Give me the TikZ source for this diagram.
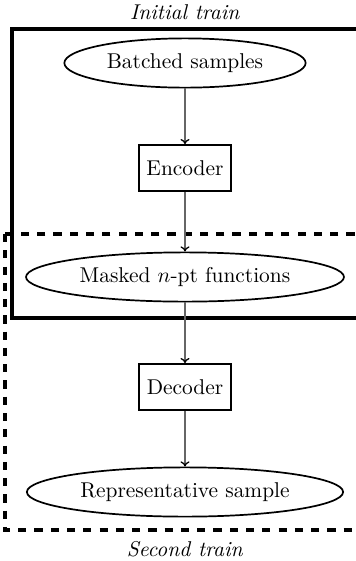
\documentclass[tikz,border=0pt]{standalone}
\usetikzlibrary{shapes.geometric,arrows.meta}

\tikzset{
  stage/.style={draw, thick, ellipse, minimum height=23pt},
  block/.style={draw, thick, rectangle, inner xsep=3.6pt, minimum height=21.5pt},
  flow/.style={-{To[color=black, length=2.4pt, width=4.2pt]}, draw=black!60, semithick},
}

\begin{document}
\begin{tikzpicture}[x=0.467pt,y=0.467pt,yscale=-1,xscale=1]
\clip (0,0) rectangle (356,561);
\useasboundingbox (0,0) rectangle (356,561);
% training regions
\draw [line width=1.8pt] (12,29) rectangle (372,318);
\draw [line width=1.8pt, dash pattern=on 3.8pt off 3.8pt] (5,234) rectangle (372,530);
\node (initlbl) at (185,12) {\textit{Initial train}};
\node (seclbl) at (185,549) {\textit{Second train}};
% pipeline
\node [stage] (batched) at (185,63) {Batched samples};
\node [block] (encoder) at (185,168) {Encoder};
\node [stage] (masked) at (185,277) {Masked $n$-pt functions};
\node [block] (decoder) at (185,387) {Decoder};
\node [stage] (repr) at (185,492) {Representative sample};
\draw [flow] (batched) -- (encoder);
\draw [flow] (encoder) -- (masked);
\draw [flow] (masked) -- (decoder);
\draw [flow] (decoder) -- (repr);
\end{tikzpicture}
\end{document}
